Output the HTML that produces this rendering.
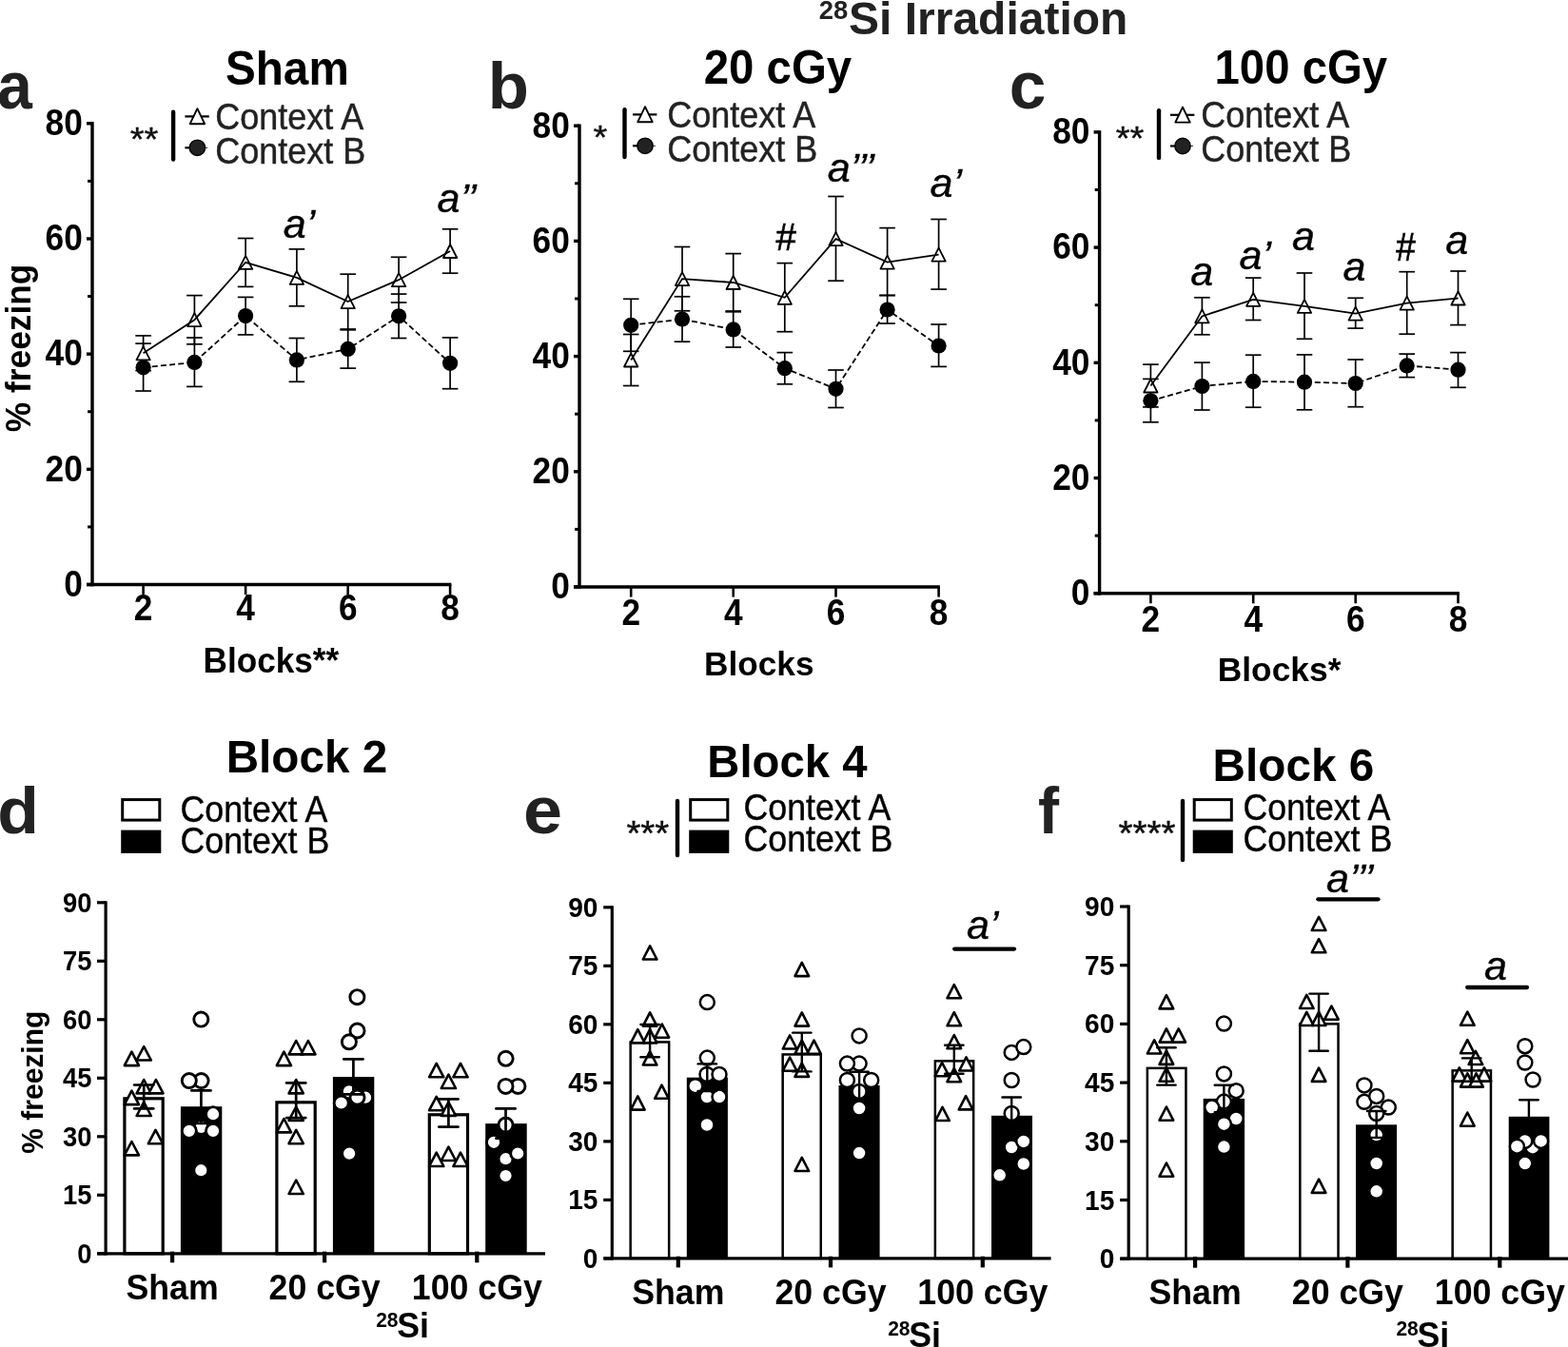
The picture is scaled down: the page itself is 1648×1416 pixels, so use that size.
<!DOCTYPE html>
<html lang="en">
<head>
<meta charset="utf-8">
<title>28Si Irradiation - % freezing across blocks</title>
<style>
html, body { margin: 0; padding: 0; background: #fff; }
body { width: 1648px; height: 1416px; overflow: hidden; }
svg { display: block; font-family: 'Liberation Sans', Arial, Helvetica, sans-serif; }
</style>
</head>
<body>
<svg width="1648" height="1416" viewBox="0 0 1648 1416">
<rect x="0" y="0" width="1648" height="1416" fill="#fff"/>
<line x1="97.00" y1="128.10" x2="97.00" y2="616.20" stroke="#000" stroke-width="3.4" stroke-linecap="butt"/>
<line x1="91.00" y1="614.50" x2="474.40" y2="614.50" stroke="#000" stroke-width="3.4" stroke-linecap="butt"/>
<line x1="91.00" y1="614.50" x2="97.00" y2="614.50" stroke="#000" stroke-width="3.4" stroke-linecap="butt"/>
<text transform="translate(86.80 626.80) scale(1.0 1.075)" font-size="35.3" font-weight="bold" font-style="normal" text-anchor="end" fill="#000">0</text>
<line x1="92.10" y1="553.91" x2="97.00" y2="553.91" stroke="#000" stroke-width="3.0" stroke-linecap="butt"/>
<line x1="91.00" y1="493.32" x2="97.00" y2="493.32" stroke="#000" stroke-width="3.4" stroke-linecap="butt"/>
<text transform="translate(86.80 505.62) scale(1.0 1.075)" font-size="35.3" font-weight="bold" font-style="normal" text-anchor="end" fill="#000">20</text>
<line x1="92.10" y1="432.74" x2="97.00" y2="432.74" stroke="#000" stroke-width="3.0" stroke-linecap="butt"/>
<line x1="91.00" y1="372.15" x2="97.00" y2="372.15" stroke="#000" stroke-width="3.4" stroke-linecap="butt"/>
<text transform="translate(86.80 384.45) scale(1.0 1.075)" font-size="35.3" font-weight="bold" font-style="normal" text-anchor="end" fill="#000">40</text>
<line x1="92.10" y1="311.56" x2="97.00" y2="311.56" stroke="#000" stroke-width="3.0" stroke-linecap="butt"/>
<line x1="91.00" y1="250.98" x2="97.00" y2="250.98" stroke="#000" stroke-width="3.4" stroke-linecap="butt"/>
<text transform="translate(86.80 263.28) scale(1.0 1.075)" font-size="35.3" font-weight="bold" font-style="normal" text-anchor="end" fill="#000">60</text>
<line x1="92.10" y1="190.39" x2="97.00" y2="190.39" stroke="#000" stroke-width="3.0" stroke-linecap="butt"/>
<line x1="91.00" y1="129.80" x2="97.00" y2="129.80" stroke="#000" stroke-width="3.4" stroke-linecap="butt"/>
<text transform="translate(86.80 142.10) scale(1.0 1.075)" font-size="35.3" font-weight="bold" font-style="normal" text-anchor="end" fill="#000">80</text>
<line x1="150.60" y1="614.50" x2="150.60" y2="625.10" stroke="#000" stroke-width="2.6" stroke-linecap="butt"/>
<text transform="translate(150.60 651.80) scale(1.0 1.075)" font-size="35.3" font-weight="bold" font-style="normal" text-anchor="middle" fill="#000">2</text>
<line x1="258.10" y1="614.50" x2="258.10" y2="625.10" stroke="#000" stroke-width="2.6" stroke-linecap="butt"/>
<text transform="translate(258.10 651.80) scale(1.0 1.075)" font-size="35.3" font-weight="bold" font-style="normal" text-anchor="middle" fill="#000">4</text>
<line x1="365.70" y1="614.50" x2="365.70" y2="625.10" stroke="#000" stroke-width="2.6" stroke-linecap="butt"/>
<text transform="translate(365.70 651.80) scale(1.0 1.075)" font-size="35.3" font-weight="bold" font-style="normal" text-anchor="middle" fill="#000">6</text>
<line x1="473.10" y1="614.50" x2="473.10" y2="625.10" stroke="#000" stroke-width="2.6" stroke-linecap="butt"/>
<text transform="translate(473.10 651.80) scale(1.0 1.075)" font-size="35.3" font-weight="bold" font-style="normal" text-anchor="middle" fill="#000">8</text>
<line x1="150.60" y1="361.10" x2="150.60" y2="411.00" stroke="#000" stroke-width="1.7" stroke-linecap="butt"/>
<line x1="142.30" y1="361.10" x2="158.90" y2="361.10" stroke="#000" stroke-width="1.7" stroke-linecap="butt"/>
<line x1="142.30" y1="411.00" x2="158.90" y2="411.00" stroke="#000" stroke-width="1.7" stroke-linecap="butt"/>
<line x1="204.40" y1="355.00" x2="204.40" y2="406.40" stroke="#000" stroke-width="1.7" stroke-linecap="butt"/>
<line x1="196.10" y1="355.00" x2="212.70" y2="355.00" stroke="#000" stroke-width="1.7" stroke-linecap="butt"/>
<line x1="196.10" y1="406.40" x2="212.70" y2="406.40" stroke="#000" stroke-width="1.7" stroke-linecap="butt"/>
<line x1="258.10" y1="312.40" x2="258.10" y2="351.90" stroke="#000" stroke-width="1.7" stroke-linecap="butt"/>
<line x1="249.80" y1="312.40" x2="266.40" y2="312.40" stroke="#000" stroke-width="1.7" stroke-linecap="butt"/>
<line x1="249.80" y1="351.90" x2="266.40" y2="351.90" stroke="#000" stroke-width="1.7" stroke-linecap="butt"/>
<line x1="311.90" y1="355.50" x2="311.90" y2="401.30" stroke="#000" stroke-width="1.7" stroke-linecap="butt"/>
<line x1="303.60" y1="355.50" x2="320.20" y2="355.50" stroke="#000" stroke-width="1.7" stroke-linecap="butt"/>
<line x1="303.60" y1="401.30" x2="320.20" y2="401.30" stroke="#000" stroke-width="1.7" stroke-linecap="butt"/>
<line x1="365.70" y1="346.80" x2="365.70" y2="387.10" stroke="#000" stroke-width="1.7" stroke-linecap="butt"/>
<line x1="357.40" y1="346.80" x2="374.00" y2="346.80" stroke="#000" stroke-width="1.7" stroke-linecap="butt"/>
<line x1="357.40" y1="387.10" x2="374.00" y2="387.10" stroke="#000" stroke-width="1.7" stroke-linecap="butt"/>
<line x1="419.10" y1="309.10" x2="419.10" y2="355.50" stroke="#000" stroke-width="1.7" stroke-linecap="butt"/>
<line x1="410.80" y1="309.10" x2="427.40" y2="309.10" stroke="#000" stroke-width="1.7" stroke-linecap="butt"/>
<line x1="410.80" y1="355.50" x2="427.40" y2="355.50" stroke="#000" stroke-width="1.7" stroke-linecap="butt"/>
<line x1="473.10" y1="354.90" x2="473.10" y2="408.70" stroke="#000" stroke-width="1.7" stroke-linecap="butt"/>
<line x1="464.80" y1="354.90" x2="481.40" y2="354.90" stroke="#000" stroke-width="1.7" stroke-linecap="butt"/>
<line x1="464.80" y1="408.70" x2="481.40" y2="408.70" stroke="#000" stroke-width="1.7" stroke-linecap="butt"/>
<line x1="150.60" y1="352.90" x2="150.60" y2="389.60" stroke="#000" stroke-width="1.7" stroke-linecap="butt"/>
<line x1="142.30" y1="352.90" x2="158.90" y2="352.90" stroke="#000" stroke-width="1.7" stroke-linecap="butt"/>
<line x1="142.30" y1="389.60" x2="158.90" y2="389.60" stroke="#000" stroke-width="1.7" stroke-linecap="butt"/>
<line x1="204.40" y1="310.60" x2="204.40" y2="361.80" stroke="#000" stroke-width="1.7" stroke-linecap="butt"/>
<line x1="196.10" y1="310.60" x2="212.70" y2="310.60" stroke="#000" stroke-width="1.7" stroke-linecap="butt"/>
<line x1="196.10" y1="361.80" x2="212.70" y2="361.80" stroke="#000" stroke-width="1.7" stroke-linecap="butt"/>
<line x1="258.10" y1="250.50" x2="258.10" y2="301.40" stroke="#000" stroke-width="1.7" stroke-linecap="butt"/>
<line x1="249.80" y1="250.50" x2="266.40" y2="250.50" stroke="#000" stroke-width="1.7" stroke-linecap="butt"/>
<line x1="249.80" y1="301.40" x2="266.40" y2="301.40" stroke="#000" stroke-width="1.7" stroke-linecap="butt"/>
<line x1="311.90" y1="261.90" x2="311.90" y2="321.80" stroke="#000" stroke-width="1.7" stroke-linecap="butt"/>
<line x1="303.60" y1="261.90" x2="320.20" y2="261.90" stroke="#000" stroke-width="1.7" stroke-linecap="butt"/>
<line x1="303.60" y1="321.80" x2="320.20" y2="321.80" stroke="#000" stroke-width="1.7" stroke-linecap="butt"/>
<line x1="365.70" y1="288.20" x2="365.70" y2="346.00" stroke="#000" stroke-width="1.7" stroke-linecap="butt"/>
<line x1="357.40" y1="288.20" x2="374.00" y2="288.20" stroke="#000" stroke-width="1.7" stroke-linecap="butt"/>
<line x1="357.40" y1="346.00" x2="374.00" y2="346.00" stroke="#000" stroke-width="1.7" stroke-linecap="butt"/>
<line x1="419.10" y1="270.30" x2="419.10" y2="318.00" stroke="#000" stroke-width="1.7" stroke-linecap="butt"/>
<line x1="410.80" y1="270.30" x2="427.40" y2="270.30" stroke="#000" stroke-width="1.7" stroke-linecap="butt"/>
<line x1="410.80" y1="318.00" x2="427.40" y2="318.00" stroke="#000" stroke-width="1.7" stroke-linecap="butt"/>
<line x1="473.10" y1="240.80" x2="473.10" y2="287.20" stroke="#000" stroke-width="1.7" stroke-linecap="butt"/>
<line x1="464.80" y1="240.80" x2="481.40" y2="240.80" stroke="#000" stroke-width="1.7" stroke-linecap="butt"/>
<line x1="464.80" y1="287.20" x2="481.40" y2="287.20" stroke="#000" stroke-width="1.7" stroke-linecap="butt"/>
<polyline points="150.60,386.30 204.40,380.90 258.10,332.10 311.90,378.40 365.70,366.90 419.10,332.30 473.10,381.80" fill="none" stroke="#000" stroke-width="1.8" stroke-dasharray="6 3.2"/>
<path d="M150.60 364.30L157.75 378.30L143.45 378.30Z" fill="#fff" stroke="#000" stroke-width="1.8" stroke-linejoin="round"/>
<path d="M204.40 329.20L211.55 343.20L197.25 343.20Z" fill="#fff" stroke="#000" stroke-width="1.8" stroke-linejoin="round"/>
<path d="M258.10 268.90L265.25 282.90L250.95 282.90Z" fill="#fff" stroke="#000" stroke-width="1.8" stroke-linejoin="round"/>
<path d="M311.90 284.90L319.05 298.90L304.75 298.90Z" fill="#fff" stroke="#000" stroke-width="1.8" stroke-linejoin="round"/>
<path d="M365.70 310.10L372.85 324.10L358.55 324.10Z" fill="#fff" stroke="#000" stroke-width="1.8" stroke-linejoin="round"/>
<path d="M419.10 287.20L426.25 301.20L411.95 301.20Z" fill="#fff" stroke="#000" stroke-width="1.8" stroke-linejoin="round"/>
<path d="M473.10 257.00L480.25 271.00L465.95 271.00Z" fill="#fff" stroke="#000" stroke-width="1.8" stroke-linejoin="round"/>
<polyline points="150.60,371.30 204.40,336.20 258.10,275.90 311.90,291.90 365.70,317.10 419.10,294.20 473.10,264.00" fill="none" stroke="#000" stroke-width="1.8"/>
<circle cx="150.60" cy="386.30" r="8.1" fill="#000"/>
<circle cx="204.40" cy="380.90" r="8.1" fill="#000"/>
<circle cx="258.10" cy="332.10" r="8.1" fill="#000"/>
<circle cx="311.90" cy="378.40" r="8.1" fill="#000"/>
<circle cx="365.70" cy="366.90" r="8.1" fill="#000"/>
<circle cx="419.10" cy="332.30" r="8.1" fill="#000"/>
<circle cx="473.10" cy="381.80" r="8.1" fill="#000"/>
<line x1="609.00" y1="130.50" x2="609.00" y2="618.70" stroke="#000" stroke-width="3.4" stroke-linecap="butt"/>
<line x1="603.00" y1="617.00" x2="987.90" y2="617.00" stroke="#000" stroke-width="3.4" stroke-linecap="butt"/>
<line x1="603.00" y1="617.00" x2="609.00" y2="617.00" stroke="#000" stroke-width="3.4" stroke-linecap="butt"/>
<text transform="translate(598.80 629.30) scale(1.0 1.075)" font-size="35.3" font-weight="bold" font-style="normal" text-anchor="end" fill="#000">0</text>
<line x1="604.10" y1="556.40" x2="609.00" y2="556.40" stroke="#000" stroke-width="3.0" stroke-linecap="butt"/>
<line x1="603.00" y1="495.80" x2="609.00" y2="495.80" stroke="#000" stroke-width="3.4" stroke-linecap="butt"/>
<text transform="translate(598.80 508.10) scale(1.0 1.075)" font-size="35.3" font-weight="bold" font-style="normal" text-anchor="end" fill="#000">20</text>
<line x1="604.10" y1="435.20" x2="609.00" y2="435.20" stroke="#000" stroke-width="3.0" stroke-linecap="butt"/>
<line x1="603.00" y1="374.60" x2="609.00" y2="374.60" stroke="#000" stroke-width="3.4" stroke-linecap="butt"/>
<text transform="translate(598.80 386.90) scale(1.0 1.075)" font-size="35.3" font-weight="bold" font-style="normal" text-anchor="end" fill="#000">40</text>
<line x1="604.10" y1="314.00" x2="609.00" y2="314.00" stroke="#000" stroke-width="3.0" stroke-linecap="butt"/>
<line x1="603.00" y1="253.40" x2="609.00" y2="253.40" stroke="#000" stroke-width="3.4" stroke-linecap="butt"/>
<text transform="translate(598.80 265.70) scale(1.0 1.075)" font-size="35.3" font-weight="bold" font-style="normal" text-anchor="end" fill="#000">60</text>
<line x1="604.10" y1="192.80" x2="609.00" y2="192.80" stroke="#000" stroke-width="3.0" stroke-linecap="butt"/>
<line x1="603.00" y1="132.20" x2="609.00" y2="132.20" stroke="#000" stroke-width="3.4" stroke-linecap="butt"/>
<text transform="translate(598.80 144.50) scale(1.0 1.075)" font-size="35.3" font-weight="bold" font-style="normal" text-anchor="end" fill="#000">80</text>
<line x1="663.20" y1="617.00" x2="663.20" y2="627.60" stroke="#000" stroke-width="2.6" stroke-linecap="butt"/>
<text transform="translate(663.20 657.00) scale(1.0 1.075)" font-size="35.3" font-weight="bold" font-style="normal" text-anchor="middle" fill="#000">2</text>
<line x1="770.70" y1="617.00" x2="770.70" y2="627.60" stroke="#000" stroke-width="2.6" stroke-linecap="butt"/>
<text transform="translate(770.70 657.00) scale(1.0 1.075)" font-size="35.3" font-weight="bold" font-style="normal" text-anchor="middle" fill="#000">4</text>
<line x1="878.50" y1="617.00" x2="878.50" y2="627.60" stroke="#000" stroke-width="2.6" stroke-linecap="butt"/>
<text transform="translate(878.50 657.00) scale(1.0 1.075)" font-size="35.3" font-weight="bold" font-style="normal" text-anchor="middle" fill="#000">6</text>
<line x1="986.60" y1="617.00" x2="986.60" y2="627.60" stroke="#000" stroke-width="2.6" stroke-linecap="butt"/>
<text transform="translate(986.60 657.00) scale(1.0 1.075)" font-size="35.3" font-weight="bold" font-style="normal" text-anchor="middle" fill="#000">8</text>
<line x1="663.20" y1="314.30" x2="663.20" y2="369.30" stroke="#000" stroke-width="1.7" stroke-linecap="butt"/>
<line x1="654.90" y1="314.30" x2="671.50" y2="314.30" stroke="#000" stroke-width="1.7" stroke-linecap="butt"/>
<line x1="654.90" y1="369.30" x2="671.50" y2="369.30" stroke="#000" stroke-width="1.7" stroke-linecap="butt"/>
<line x1="717.00" y1="311.80" x2="717.00" y2="359.20" stroke="#000" stroke-width="1.7" stroke-linecap="butt"/>
<line x1="708.70" y1="311.80" x2="725.30" y2="311.80" stroke="#000" stroke-width="1.7" stroke-linecap="butt"/>
<line x1="708.70" y1="359.20" x2="725.30" y2="359.20" stroke="#000" stroke-width="1.7" stroke-linecap="butt"/>
<line x1="770.70" y1="327.80" x2="770.70" y2="365.00" stroke="#000" stroke-width="1.7" stroke-linecap="butt"/>
<line x1="762.40" y1="327.80" x2="779.00" y2="327.80" stroke="#000" stroke-width="1.7" stroke-linecap="butt"/>
<line x1="762.40" y1="365.00" x2="779.00" y2="365.00" stroke="#000" stroke-width="1.7" stroke-linecap="butt"/>
<line x1="824.80" y1="370.60" x2="824.80" y2="403.80" stroke="#000" stroke-width="1.7" stroke-linecap="butt"/>
<line x1="816.50" y1="370.60" x2="833.10" y2="370.60" stroke="#000" stroke-width="1.7" stroke-linecap="butt"/>
<line x1="816.50" y1="403.80" x2="833.10" y2="403.80" stroke="#000" stroke-width="1.7" stroke-linecap="butt"/>
<line x1="878.50" y1="389.00" x2="878.50" y2="428.50" stroke="#000" stroke-width="1.7" stroke-linecap="butt"/>
<line x1="870.20" y1="389.00" x2="886.80" y2="389.00" stroke="#000" stroke-width="1.7" stroke-linecap="butt"/>
<line x1="870.20" y1="428.50" x2="886.80" y2="428.50" stroke="#000" stroke-width="1.7" stroke-linecap="butt"/>
<line x1="932.60" y1="310.50" x2="932.60" y2="340.00" stroke="#000" stroke-width="1.7" stroke-linecap="butt"/>
<line x1="924.30" y1="310.50" x2="940.90" y2="310.50" stroke="#000" stroke-width="1.7" stroke-linecap="butt"/>
<line x1="924.30" y1="340.00" x2="940.90" y2="340.00" stroke="#000" stroke-width="1.7" stroke-linecap="butt"/>
<line x1="986.60" y1="341.00" x2="986.60" y2="385.40" stroke="#000" stroke-width="1.7" stroke-linecap="butt"/>
<line x1="978.30" y1="341.00" x2="994.90" y2="341.00" stroke="#000" stroke-width="1.7" stroke-linecap="butt"/>
<line x1="978.30" y1="385.40" x2="994.90" y2="385.40" stroke="#000" stroke-width="1.7" stroke-linecap="butt"/>
<line x1="663.20" y1="351.50" x2="663.20" y2="405.50" stroke="#000" stroke-width="1.7" stroke-linecap="butt"/>
<line x1="654.90" y1="351.50" x2="671.50" y2="351.50" stroke="#000" stroke-width="1.7" stroke-linecap="butt"/>
<line x1="654.90" y1="405.50" x2="671.50" y2="405.50" stroke="#000" stroke-width="1.7" stroke-linecap="butt"/>
<line x1="717.00" y1="259.50" x2="717.00" y2="326.80" stroke="#000" stroke-width="1.7" stroke-linecap="butt"/>
<line x1="708.70" y1="259.50" x2="725.30" y2="259.50" stroke="#000" stroke-width="1.7" stroke-linecap="butt"/>
<line x1="708.70" y1="326.80" x2="725.30" y2="326.80" stroke="#000" stroke-width="1.7" stroke-linecap="butt"/>
<line x1="770.70" y1="266.60" x2="770.70" y2="327.00" stroke="#000" stroke-width="1.7" stroke-linecap="butt"/>
<line x1="762.40" y1="266.60" x2="779.00" y2="266.60" stroke="#000" stroke-width="1.7" stroke-linecap="butt"/>
<line x1="762.40" y1="327.00" x2="779.00" y2="327.00" stroke="#000" stroke-width="1.7" stroke-linecap="butt"/>
<line x1="824.80" y1="276.60" x2="824.80" y2="348.70" stroke="#000" stroke-width="1.7" stroke-linecap="butt"/>
<line x1="816.50" y1="276.60" x2="833.10" y2="276.60" stroke="#000" stroke-width="1.7" stroke-linecap="butt"/>
<line x1="816.50" y1="348.70" x2="833.10" y2="348.70" stroke="#000" stroke-width="1.7" stroke-linecap="butt"/>
<line x1="878.50" y1="206.50" x2="878.50" y2="295.20" stroke="#000" stroke-width="1.7" stroke-linecap="butt"/>
<line x1="870.20" y1="206.50" x2="886.80" y2="206.50" stroke="#000" stroke-width="1.7" stroke-linecap="butt"/>
<line x1="870.20" y1="295.20" x2="886.80" y2="295.20" stroke="#000" stroke-width="1.7" stroke-linecap="butt"/>
<line x1="932.60" y1="239.60" x2="932.60" y2="310.50" stroke="#000" stroke-width="1.7" stroke-linecap="butt"/>
<line x1="924.30" y1="239.60" x2="940.90" y2="239.60" stroke="#000" stroke-width="1.7" stroke-linecap="butt"/>
<line x1="924.30" y1="310.50" x2="940.90" y2="310.50" stroke="#000" stroke-width="1.7" stroke-linecap="butt"/>
<line x1="986.60" y1="230.50" x2="986.60" y2="304.10" stroke="#000" stroke-width="1.7" stroke-linecap="butt"/>
<line x1="978.30" y1="230.50" x2="994.90" y2="230.50" stroke="#000" stroke-width="1.7" stroke-linecap="butt"/>
<line x1="978.30" y1="304.10" x2="994.90" y2="304.10" stroke="#000" stroke-width="1.7" stroke-linecap="butt"/>
<polyline points="663.20,341.80 717.00,335.50 770.70,346.40 824.80,387.20 878.50,408.80 932.60,325.50 986.60,363.50" fill="none" stroke="#000" stroke-width="1.8" stroke-dasharray="6 3.2"/>
<path d="M663.20 371.50L670.35 385.50L656.05 385.50Z" fill="#fff" stroke="#000" stroke-width="1.8" stroke-linejoin="round"/>
<path d="M717.00 286.10L724.15 300.10L709.85 300.10Z" fill="#fff" stroke="#000" stroke-width="1.8" stroke-linejoin="round"/>
<path d="M770.70 290.00L777.85 304.00L763.55 304.00Z" fill="#fff" stroke="#000" stroke-width="1.8" stroke-linejoin="round"/>
<path d="M824.80 305.80L831.95 319.80L817.65 319.80Z" fill="#fff" stroke="#000" stroke-width="1.8" stroke-linejoin="round"/>
<path d="M878.50 244.10L885.65 258.10L871.35 258.10Z" fill="#fff" stroke="#000" stroke-width="1.8" stroke-linejoin="round"/>
<path d="M932.60 268.60L939.75 282.60L925.45 282.60Z" fill="#fff" stroke="#000" stroke-width="1.8" stroke-linejoin="round"/>
<path d="M986.60 260.70L993.75 274.70L979.45 274.70Z" fill="#fff" stroke="#000" stroke-width="1.8" stroke-linejoin="round"/>
<polyline points="663.20,378.50 717.00,293.10 770.70,297.00 824.80,312.80 878.50,251.10 932.60,275.60 986.60,267.70" fill="none" stroke="#000" stroke-width="1.8"/>
<circle cx="663.20" cy="341.80" r="8.1" fill="#000"/>
<circle cx="717.00" cy="335.50" r="8.1" fill="#000"/>
<circle cx="770.70" cy="346.40" r="8.1" fill="#000"/>
<circle cx="824.80" cy="387.20" r="8.1" fill="#000"/>
<circle cx="878.50" cy="408.80" r="8.1" fill="#000"/>
<circle cx="932.60" cy="325.50" r="8.1" fill="#000"/>
<circle cx="986.60" cy="363.50" r="8.1" fill="#000"/>
<line x1="1155.60" y1="137.20" x2="1155.60" y2="625.40" stroke="#000" stroke-width="3.4" stroke-linecap="butt"/>
<line x1="1149.60" y1="623.70" x2="1533.80" y2="623.70" stroke="#000" stroke-width="3.4" stroke-linecap="butt"/>
<line x1="1149.60" y1="623.70" x2="1155.60" y2="623.70" stroke="#000" stroke-width="3.4" stroke-linecap="butt"/>
<text transform="translate(1145.40 636.00) scale(1.0 1.075)" font-size="35.3" font-weight="bold" font-style="normal" text-anchor="end" fill="#000">0</text>
<line x1="1150.70" y1="563.10" x2="1155.60" y2="563.10" stroke="#000" stroke-width="3.0" stroke-linecap="butt"/>
<line x1="1149.60" y1="502.50" x2="1155.60" y2="502.50" stroke="#000" stroke-width="3.4" stroke-linecap="butt"/>
<text transform="translate(1145.40 514.80) scale(1.0 1.075)" font-size="35.3" font-weight="bold" font-style="normal" text-anchor="end" fill="#000">20</text>
<line x1="1150.70" y1="441.90" x2="1155.60" y2="441.90" stroke="#000" stroke-width="3.0" stroke-linecap="butt"/>
<line x1="1149.60" y1="381.30" x2="1155.60" y2="381.30" stroke="#000" stroke-width="3.4" stroke-linecap="butt"/>
<text transform="translate(1145.40 393.60) scale(1.0 1.075)" font-size="35.3" font-weight="bold" font-style="normal" text-anchor="end" fill="#000">40</text>
<line x1="1150.70" y1="320.70" x2="1155.60" y2="320.70" stroke="#000" stroke-width="3.0" stroke-linecap="butt"/>
<line x1="1149.60" y1="260.10" x2="1155.60" y2="260.10" stroke="#000" stroke-width="3.4" stroke-linecap="butt"/>
<text transform="translate(1145.40 272.40) scale(1.0 1.075)" font-size="35.3" font-weight="bold" font-style="normal" text-anchor="end" fill="#000">60</text>
<line x1="1150.70" y1="199.50" x2="1155.60" y2="199.50" stroke="#000" stroke-width="3.0" stroke-linecap="butt"/>
<line x1="1149.60" y1="138.90" x2="1155.60" y2="138.90" stroke="#000" stroke-width="3.4" stroke-linecap="butt"/>
<text transform="translate(1145.40 151.20) scale(1.0 1.075)" font-size="35.3" font-weight="bold" font-style="normal" text-anchor="end" fill="#000">80</text>
<line x1="1209.40" y1="623.70" x2="1209.40" y2="634.30" stroke="#000" stroke-width="2.6" stroke-linecap="butt"/>
<text transform="translate(1209.40 663.50) scale(1.0 1.075)" font-size="35.3" font-weight="bold" font-style="normal" text-anchor="middle" fill="#000">2</text>
<line x1="1317.20" y1="623.70" x2="1317.20" y2="634.30" stroke="#000" stroke-width="2.6" stroke-linecap="butt"/>
<text transform="translate(1317.20 663.50) scale(1.0 1.075)" font-size="35.3" font-weight="bold" font-style="normal" text-anchor="middle" fill="#000">4</text>
<line x1="1424.70" y1="623.70" x2="1424.70" y2="634.30" stroke="#000" stroke-width="2.6" stroke-linecap="butt"/>
<text transform="translate(1424.70 663.50) scale(1.0 1.075)" font-size="35.3" font-weight="bold" font-style="normal" text-anchor="middle" fill="#000">6</text>
<line x1="1532.50" y1="623.70" x2="1532.50" y2="634.30" stroke="#000" stroke-width="2.6" stroke-linecap="butt"/>
<text transform="translate(1532.50 663.50) scale(1.0 1.075)" font-size="35.3" font-weight="bold" font-style="normal" text-anchor="middle" fill="#000">8</text>
<line x1="1209.40" y1="398.40" x2="1209.40" y2="443.80" stroke="#000" stroke-width="1.7" stroke-linecap="butt"/>
<line x1="1201.10" y1="398.40" x2="1217.70" y2="398.40" stroke="#000" stroke-width="1.7" stroke-linecap="butt"/>
<line x1="1201.10" y1="443.80" x2="1217.70" y2="443.80" stroke="#000" stroke-width="1.7" stroke-linecap="butt"/>
<line x1="1263.40" y1="381.10" x2="1263.40" y2="431.00" stroke="#000" stroke-width="1.7" stroke-linecap="butt"/>
<line x1="1255.10" y1="381.10" x2="1271.70" y2="381.10" stroke="#000" stroke-width="1.7" stroke-linecap="butt"/>
<line x1="1255.10" y1="431.00" x2="1271.70" y2="431.00" stroke="#000" stroke-width="1.7" stroke-linecap="butt"/>
<line x1="1317.20" y1="373.20" x2="1317.20" y2="428.20" stroke="#000" stroke-width="1.7" stroke-linecap="butt"/>
<line x1="1308.90" y1="373.20" x2="1325.50" y2="373.20" stroke="#000" stroke-width="1.7" stroke-linecap="butt"/>
<line x1="1308.90" y1="428.20" x2="1325.50" y2="428.20" stroke="#000" stroke-width="1.7" stroke-linecap="butt"/>
<line x1="1371.00" y1="372.90" x2="1371.00" y2="430.80" stroke="#000" stroke-width="1.7" stroke-linecap="butt"/>
<line x1="1362.70" y1="372.90" x2="1379.30" y2="372.90" stroke="#000" stroke-width="1.7" stroke-linecap="butt"/>
<line x1="1362.70" y1="430.80" x2="1379.30" y2="430.80" stroke="#000" stroke-width="1.7" stroke-linecap="butt"/>
<line x1="1424.70" y1="378.00" x2="1424.70" y2="427.70" stroke="#000" stroke-width="1.7" stroke-linecap="butt"/>
<line x1="1416.40" y1="378.00" x2="1433.00" y2="378.00" stroke="#000" stroke-width="1.7" stroke-linecap="butt"/>
<line x1="1416.40" y1="427.70" x2="1433.00" y2="427.70" stroke="#000" stroke-width="1.7" stroke-linecap="butt"/>
<line x1="1478.70" y1="372.10" x2="1478.70" y2="396.60" stroke="#000" stroke-width="1.7" stroke-linecap="butt"/>
<line x1="1470.40" y1="372.10" x2="1487.00" y2="372.10" stroke="#000" stroke-width="1.7" stroke-linecap="butt"/>
<line x1="1470.40" y1="396.60" x2="1487.00" y2="396.60" stroke="#000" stroke-width="1.7" stroke-linecap="butt"/>
<line x1="1532.50" y1="370.60" x2="1532.50" y2="407.30" stroke="#000" stroke-width="1.7" stroke-linecap="butt"/>
<line x1="1524.20" y1="370.60" x2="1540.80" y2="370.60" stroke="#000" stroke-width="1.7" stroke-linecap="butt"/>
<line x1="1524.20" y1="407.30" x2="1540.80" y2="407.30" stroke="#000" stroke-width="1.7" stroke-linecap="butt"/>
<line x1="1209.40" y1="383.10" x2="1209.40" y2="427.90" stroke="#000" stroke-width="1.7" stroke-linecap="butt"/>
<line x1="1201.10" y1="383.10" x2="1217.70" y2="383.10" stroke="#000" stroke-width="1.7" stroke-linecap="butt"/>
<line x1="1201.10" y1="427.90" x2="1217.70" y2="427.90" stroke="#000" stroke-width="1.7" stroke-linecap="butt"/>
<line x1="1263.40" y1="312.80" x2="1263.40" y2="351.80" stroke="#000" stroke-width="1.7" stroke-linecap="butt"/>
<line x1="1255.10" y1="312.80" x2="1271.70" y2="312.80" stroke="#000" stroke-width="1.7" stroke-linecap="butt"/>
<line x1="1255.10" y1="351.80" x2="1271.70" y2="351.80" stroke="#000" stroke-width="1.7" stroke-linecap="butt"/>
<line x1="1317.20" y1="292.10" x2="1317.20" y2="336.50" stroke="#000" stroke-width="1.7" stroke-linecap="butt"/>
<line x1="1308.90" y1="292.10" x2="1325.50" y2="292.10" stroke="#000" stroke-width="1.7" stroke-linecap="butt"/>
<line x1="1308.90" y1="336.50" x2="1325.50" y2="336.50" stroke="#000" stroke-width="1.7" stroke-linecap="butt"/>
<line x1="1371.00" y1="287.00" x2="1371.00" y2="356.30" stroke="#000" stroke-width="1.7" stroke-linecap="butt"/>
<line x1="1362.70" y1="287.00" x2="1379.30" y2="287.00" stroke="#000" stroke-width="1.7" stroke-linecap="butt"/>
<line x1="1362.70" y1="356.30" x2="1379.30" y2="356.30" stroke="#000" stroke-width="1.7" stroke-linecap="butt"/>
<line x1="1424.70" y1="313.30" x2="1424.70" y2="345.10" stroke="#000" stroke-width="1.7" stroke-linecap="butt"/>
<line x1="1416.40" y1="313.30" x2="1433.00" y2="313.30" stroke="#000" stroke-width="1.7" stroke-linecap="butt"/>
<line x1="1416.40" y1="345.10" x2="1433.00" y2="345.10" stroke="#000" stroke-width="1.7" stroke-linecap="butt"/>
<line x1="1478.70" y1="285.70" x2="1478.70" y2="351.20" stroke="#000" stroke-width="1.7" stroke-linecap="butt"/>
<line x1="1470.40" y1="285.70" x2="1487.00" y2="285.70" stroke="#000" stroke-width="1.7" stroke-linecap="butt"/>
<line x1="1470.40" y1="351.20" x2="1487.00" y2="351.20" stroke="#000" stroke-width="1.7" stroke-linecap="butt"/>
<line x1="1532.50" y1="285.00" x2="1532.50" y2="341.60" stroke="#000" stroke-width="1.7" stroke-linecap="butt"/>
<line x1="1524.20" y1="285.00" x2="1540.80" y2="285.00" stroke="#000" stroke-width="1.7" stroke-linecap="butt"/>
<line x1="1524.20" y1="341.60" x2="1540.80" y2="341.60" stroke="#000" stroke-width="1.7" stroke-linecap="butt"/>
<polyline points="1209.40,421.30 1263.40,406.00 1317.20,400.90 1371.00,401.70 1424.70,403.00 1478.70,384.40 1532.50,388.70" fill="none" stroke="#000" stroke-width="1.8" stroke-dasharray="6 3.2"/>
<path d="M1209.40 398.50L1216.55 412.50L1202.25 412.50Z" fill="#fff" stroke="#000" stroke-width="1.8" stroke-linejoin="round"/>
<path d="M1263.40 325.40L1270.55 339.40L1256.25 339.40Z" fill="#fff" stroke="#000" stroke-width="1.8" stroke-linejoin="round"/>
<path d="M1317.20 307.80L1324.35 321.80L1310.05 321.80Z" fill="#fff" stroke="#000" stroke-width="1.8" stroke-linejoin="round"/>
<path d="M1371.00 314.90L1378.15 328.90L1363.85 328.90Z" fill="#fff" stroke="#000" stroke-width="1.8" stroke-linejoin="round"/>
<path d="M1424.70 322.60L1431.85 336.60L1417.55 336.60Z" fill="#fff" stroke="#000" stroke-width="1.8" stroke-linejoin="round"/>
<path d="M1478.70 311.60L1485.85 325.60L1471.55 325.60Z" fill="#fff" stroke="#000" stroke-width="1.8" stroke-linejoin="round"/>
<path d="M1532.50 306.50L1539.65 320.50L1525.35 320.50Z" fill="#fff" stroke="#000" stroke-width="1.8" stroke-linejoin="round"/>
<polyline points="1209.40,405.50 1263.40,332.40 1317.20,314.80 1371.00,321.90 1424.70,329.60 1478.70,318.60 1532.50,313.50" fill="none" stroke="#000" stroke-width="1.8"/>
<circle cx="1209.40" cy="421.30" r="8.1" fill="#000"/>
<circle cx="1263.40" cy="406.00" r="8.1" fill="#000"/>
<circle cx="1317.20" cy="400.90" r="8.1" fill="#000"/>
<circle cx="1371.00" cy="401.70" r="8.1" fill="#000"/>
<circle cx="1424.70" cy="403.00" r="8.1" fill="#000"/>
<circle cx="1478.70" cy="384.40" r="8.1" fill="#000"/>
<circle cx="1532.50" cy="388.70" r="8.1" fill="#000"/>
<line x1="194.40" y1="122.40" x2="219.80" y2="122.40" stroke="#000" stroke-width="2.2" stroke-linecap="butt"/>
<path d="M207.40 114.20L215.10 130.20L199.70 130.20Z" fill="#fff" stroke="#000" stroke-width="1.9" stroke-linejoin="round"/>
<line x1="194.40" y1="155.30" x2="211.40" y2="155.30" stroke="#000" stroke-width="2.2" stroke-linecap="butt"/>
<line x1="207.40" y1="155.30" x2="218.40" y2="155.30" stroke="#000" stroke-width="0.8" stroke-linecap="butt"/>
<circle cx="207.40" cy="155.30" r="8.2" fill="#222" stroke="#000" stroke-width="1.4"/>
<text transform="translate(226.20 135.70) scale(1.0 1.067)" font-size="36" font-weight="normal" font-style="normal" text-anchor="start" fill="#222" stroke="#222" stroke-width="0.4">Context A</text>
<text transform="translate(226.20 171.80) scale(1.0 1.067)" font-size="36" font-weight="normal" font-style="normal" text-anchor="start" fill="#222" stroke="#222" stroke-width="0.4">Context B</text>
<line x1="182.10" y1="117.70" x2="182.10" y2="167.60" stroke="#000" stroke-width="4.4" stroke-linecap="round"/>
<text transform="translate(136.73 157.85) scale(1.0 0.907)" font-size="38.12" font-weight="normal" font-style="normal" text-anchor="start" fill="#111" stroke="#000" stroke-width="0.4">**</text>
<line x1="665.00" y1="120.40" x2="690.40" y2="120.40" stroke="#000" stroke-width="2.2" stroke-linecap="butt"/>
<path d="M678.00 112.20L685.70 128.20L670.30 128.20Z" fill="#fff" stroke="#000" stroke-width="1.9" stroke-linejoin="round"/>
<line x1="665.00" y1="153.30" x2="682.00" y2="153.30" stroke="#000" stroke-width="2.2" stroke-linecap="butt"/>
<line x1="678.00" y1="153.30" x2="689.00" y2="153.30" stroke="#000" stroke-width="0.8" stroke-linecap="butt"/>
<circle cx="678.00" cy="153.30" r="8.2" fill="#222" stroke="#000" stroke-width="1.4"/>
<text transform="translate(701.20 133.70) scale(1.0 1.067)" font-size="36" font-weight="normal" font-style="normal" text-anchor="start" fill="#222" stroke="#222" stroke-width="0.4">Context A</text>
<text transform="translate(701.20 169.80) scale(1.0 1.067)" font-size="36" font-weight="normal" font-style="normal" text-anchor="start" fill="#222" stroke="#222" stroke-width="0.4">Context B</text>
<line x1="656.50" y1="115.20" x2="656.50" y2="165.00" stroke="#000" stroke-width="4.4" stroke-linecap="round"/>
<text transform="translate(623.43 155.66) scale(1.0 0.902)" font-size="38.03" font-weight="normal" font-style="normal" text-anchor="start" fill="#111" stroke="#000" stroke-width="0.4">*</text>
<line x1="1230.00" y1="120.80" x2="1255.40" y2="120.80" stroke="#000" stroke-width="2.2" stroke-linecap="butt"/>
<path d="M1243.00 112.60L1250.70 128.60L1235.30 128.60Z" fill="#fff" stroke="#000" stroke-width="1.9" stroke-linejoin="round"/>
<line x1="1230.00" y1="153.50" x2="1247.00" y2="153.50" stroke="#000" stroke-width="2.2" stroke-linecap="butt"/>
<line x1="1243.00" y1="153.50" x2="1254.00" y2="153.50" stroke="#000" stroke-width="0.8" stroke-linecap="butt"/>
<circle cx="1243.00" cy="153.50" r="8.2" fill="#222" stroke="#000" stroke-width="1.4"/>
<text transform="translate(1262.20 134.10) scale(1.0 1.067)" font-size="36" font-weight="normal" font-style="normal" text-anchor="start" fill="#222" stroke="#222" stroke-width="0.4">Context A</text>
<text transform="translate(1262.20 170.00) scale(1.0 1.067)" font-size="36" font-weight="normal" font-style="normal" text-anchor="start" fill="#222" stroke="#222" stroke-width="0.4">Context B</text>
<line x1="1218.00" y1="116.20" x2="1218.00" y2="165.90" stroke="#000" stroke-width="4.4" stroke-linecap="round"/>
<text transform="translate(1172.73 156.85) scale(1.0 0.907)" font-size="38.12" font-weight="normal" font-style="normal" text-anchor="start" fill="#111" stroke="#000" stroke-width="0.4">**</text>
<rect x="130.90" y="1154.80" width="40.30" height="163.00" fill="#fff" stroke="#000" stroke-width="3.2"/>
<rect x="189.90" y="1163.20" width="43.40" height="154.60" fill="#000"/>
<rect x="290.90" y="1158.80" width="40.30" height="159.00" fill="#fff" stroke="#000" stroke-width="3.2"/>
<rect x="349.90" y="1132.00" width="43.40" height="185.80" fill="#000"/>
<rect x="451.30" y="1171.80" width="40.20" height="146.00" fill="#fff" stroke="#000" stroke-width="3.2"/>
<rect x="510.20" y="1181.10" width="43.50" height="136.70" fill="#000"/>
<path d="M138.40 1105.70L146.00 1120.10L130.80 1120.10Z" fill="#fff" stroke="#000" stroke-width="2.6" stroke-linejoin="round"/>
<path d="M151.20 1100.10L158.80 1114.50L143.60 1114.50Z" fill="#fff" stroke="#000" stroke-width="2.6" stroke-linejoin="round"/>
<path d="M151.20 1135.00L158.80 1149.40L143.60 1149.40Z" fill="#fff" stroke="#000" stroke-width="2.6" stroke-linejoin="round"/>
<path d="M163.90 1135.00L171.50 1149.40L156.30 1149.40Z" fill="#fff" stroke="#000" stroke-width="2.6" stroke-linejoin="round"/>
<path d="M138.40 1146.70L146.00 1161.10L130.80 1161.10Z" fill="#fff" stroke="#000" stroke-width="2.6" stroke-linejoin="round"/>
<path d="M151.20 1158.60L158.80 1173.00L143.60 1173.00Z" fill="#fff" stroke="#000" stroke-width="2.6" stroke-linejoin="round"/>
<path d="M163.50 1187.80L171.10 1202.20L155.90 1202.20Z" fill="#fff" stroke="#000" stroke-width="2.6" stroke-linejoin="round"/>
<path d="M138.40 1200.00L146.00 1214.40L130.80 1214.40Z" fill="#fff" stroke="#000" stroke-width="2.6" stroke-linejoin="round"/>
<circle cx="211.30" cy="1071.60" r="7.55" fill="#fff" stroke="#000" stroke-width="2.9"/>
<circle cx="211.55" cy="1136.10" r="7.55" fill="#fff" stroke="#000" stroke-width="2.9"/>
<circle cx="198.80" cy="1136.10" r="7.55" fill="#fff" stroke="#000" stroke-width="2.9"/>
<circle cx="224.00" cy="1171.20" r="7.55" fill="#fff" stroke="#000" stroke-width="2.9"/>
<circle cx="211.40" cy="1185.00" r="7.55" fill="#fff" stroke="#000" stroke-width="2.9"/>
<circle cx="198.80" cy="1188.90" r="7.55" fill="#fff" stroke="#000" stroke-width="2.9"/>
<circle cx="224.00" cy="1188.90" r="7.55" fill="#fff" stroke="#000" stroke-width="2.9"/>
<circle cx="211.30" cy="1230.20" r="7.55" fill="#fff" stroke="#000" stroke-width="2.9"/>
<path d="M298.40 1105.70L306.00 1120.10L290.80 1120.10Z" fill="#fff" stroke="#000" stroke-width="2.6" stroke-linejoin="round"/>
<path d="M311.20 1094.00L318.80 1108.40L303.60 1108.40Z" fill="#fff" stroke="#000" stroke-width="2.6" stroke-linejoin="round"/>
<path d="M323.90 1094.00L331.50 1108.40L316.30 1108.40Z" fill="#fff" stroke="#000" stroke-width="2.6" stroke-linejoin="round"/>
<path d="M311.20 1135.00L318.80 1149.40L303.60 1149.40Z" fill="#fff" stroke="#000" stroke-width="2.6" stroke-linejoin="round"/>
<path d="M311.20 1163.50L318.80 1177.90L303.60 1177.90Z" fill="#fff" stroke="#000" stroke-width="2.6" stroke-linejoin="round"/>
<path d="M298.40 1176.00L306.00 1190.40L290.80 1190.40Z" fill="#fff" stroke="#000" stroke-width="2.6" stroke-linejoin="round"/>
<path d="M311.20 1187.80L318.80 1202.20L303.60 1202.20Z" fill="#fff" stroke="#000" stroke-width="2.6" stroke-linejoin="round"/>
<path d="M311.20 1240.60L318.80 1255.00L303.60 1255.00Z" fill="#fff" stroke="#000" stroke-width="2.6" stroke-linejoin="round"/>
<circle cx="375.40" cy="1048.20" r="7.55" fill="#fff" stroke="#000" stroke-width="2.9"/>
<circle cx="375.50" cy="1083.50" r="7.55" fill="#fff" stroke="#000" stroke-width="2.9"/>
<circle cx="366.90" cy="1095.30" r="7.55" fill="#fff" stroke="#000" stroke-width="2.9"/>
<circle cx="366.90" cy="1147.40" r="7.55" fill="#fff" stroke="#000" stroke-width="2.9"/>
<circle cx="384.10" cy="1153.70" r="7.55" fill="#fff" stroke="#000" stroke-width="2.9"/>
<circle cx="375.50" cy="1153.70" r="7.55" fill="#fff" stroke="#000" stroke-width="2.9"/>
<circle cx="358.70" cy="1159.50" r="7.55" fill="#fff" stroke="#000" stroke-width="2.9"/>
<circle cx="367.10" cy="1212.60" r="7.55" fill="#fff" stroke="#000" stroke-width="2.9"/>
<path d="M458.70 1117.90L466.30 1132.30L451.10 1132.30Z" fill="#fff" stroke="#000" stroke-width="2.6" stroke-linejoin="round"/>
<path d="M484.00 1117.90L491.60 1132.30L476.40 1132.30Z" fill="#fff" stroke="#000" stroke-width="2.6" stroke-linejoin="round"/>
<path d="M471.40 1129.60L479.00 1144.00L463.80 1144.00Z" fill="#fff" stroke="#000" stroke-width="2.6" stroke-linejoin="round"/>
<path d="M458.70 1152.80L466.30 1167.20L451.10 1167.20Z" fill="#fff" stroke="#000" stroke-width="2.6" stroke-linejoin="round"/>
<path d="M471.40 1158.50L479.00 1172.90L463.80 1172.90Z" fill="#fff" stroke="#000" stroke-width="2.6" stroke-linejoin="round"/>
<path d="M471.40 1205.60L479.00 1220.00L463.80 1220.00Z" fill="#fff" stroke="#000" stroke-width="2.6" stroke-linejoin="round"/>
<path d="M458.70 1211.60L466.30 1226.00L451.10 1226.00Z" fill="#fff" stroke="#000" stroke-width="2.6" stroke-linejoin="round"/>
<path d="M484.00 1211.60L491.60 1226.00L476.40 1226.00Z" fill="#fff" stroke="#000" stroke-width="2.6" stroke-linejoin="round"/>
<circle cx="531.60" cy="1112.80" r="7.55" fill="#fff" stroke="#000" stroke-width="2.9"/>
<circle cx="544.40" cy="1141.90" r="7.55" fill="#fff" stroke="#000" stroke-width="2.9"/>
<circle cx="531.50" cy="1141.90" r="7.55" fill="#fff" stroke="#000" stroke-width="2.9"/>
<circle cx="531.50" cy="1182.60" r="7.55" fill="#fff" stroke="#000" stroke-width="2.9"/>
<circle cx="519.00" cy="1200.80" r="7.55" fill="#fff" stroke="#000" stroke-width="2.9"/>
<circle cx="531.50" cy="1218.20" r="7.55" fill="#fff" stroke="#000" stroke-width="2.9"/>
<circle cx="544.20" cy="1212.50" r="7.55" fill="#fff" stroke="#000" stroke-width="2.9"/>
<circle cx="531.50" cy="1236.00" r="7.55" fill="#fff" stroke="#000" stroke-width="2.9"/>
<line x1="151.20" y1="1140.50" x2="151.20" y2="1165.40" stroke="#000" stroke-width="2.7" stroke-linecap="butt"/>
<line x1="141.10" y1="1140.50" x2="161.30" y2="1140.50" stroke="#000" stroke-width="2.7" stroke-linecap="round"/>
<line x1="141.10" y1="1165.40" x2="161.30" y2="1165.40" stroke="#000" stroke-width="2.7" stroke-linecap="round"/>
<line x1="211.40" y1="1146.40" x2="211.40" y2="1181.00" stroke="#000" stroke-width="2.7" stroke-linecap="butt"/>
<line x1="201.30" y1="1146.40" x2="221.50" y2="1146.40" stroke="#000" stroke-width="2.7" stroke-linecap="round"/>
<line x1="201.30" y1="1181.00" x2="221.50" y2="1181.00" stroke="#000" stroke-width="2.7" stroke-linecap="round"/>
<line x1="311.20" y1="1138.40" x2="311.20" y2="1175.10" stroke="#000" stroke-width="2.7" stroke-linecap="butt"/>
<line x1="301.10" y1="1138.40" x2="321.30" y2="1138.40" stroke="#000" stroke-width="2.7" stroke-linecap="round"/>
<line x1="301.10" y1="1175.10" x2="321.30" y2="1175.10" stroke="#000" stroke-width="2.7" stroke-linecap="round"/>
<line x1="371.40" y1="1113.40" x2="371.40" y2="1150.40" stroke="#000" stroke-width="2.7" stroke-linecap="butt"/>
<line x1="361.30" y1="1113.40" x2="381.50" y2="1113.40" stroke="#000" stroke-width="2.7" stroke-linecap="round"/>
<line x1="361.30" y1="1150.40" x2="381.50" y2="1150.40" stroke="#000" stroke-width="2.7" stroke-linecap="round"/>
<line x1="471.40" y1="1155.40" x2="471.40" y2="1184.60" stroke="#000" stroke-width="2.7" stroke-linecap="butt"/>
<line x1="461.30" y1="1155.40" x2="481.50" y2="1155.40" stroke="#000" stroke-width="2.7" stroke-linecap="round"/>
<line x1="461.30" y1="1184.60" x2="481.50" y2="1184.60" stroke="#000" stroke-width="2.7" stroke-linecap="round"/>
<line x1="531.50" y1="1165.40" x2="531.50" y2="1196.70" stroke="#000" stroke-width="2.7" stroke-linecap="butt"/>
<line x1="521.40" y1="1165.40" x2="541.60" y2="1165.40" stroke="#000" stroke-width="2.7" stroke-linecap="round"/>
<line x1="521.40" y1="1196.70" x2="541.60" y2="1196.70" stroke="#000" stroke-width="2.7" stroke-linecap="round"/>
<line x1="111.10" y1="947.20" x2="111.10" y2="1319.40" stroke="#000" stroke-width="3.2" stroke-linecap="butt"/>
<line x1="102.30" y1="1317.80" x2="573.00" y2="1317.80" stroke="#000" stroke-width="3.2" stroke-linecap="butt"/>
<line x1="102.00" y1="1317.80" x2="111.10" y2="1317.80" stroke="#000" stroke-width="3.2" stroke-linecap="butt"/>
<text transform="translate(96.40 1327.70) scale(1.0 1.08)" font-size="27.4" font-weight="bold" font-style="normal" text-anchor="end" fill="#000">0</text>
<line x1="102.00" y1="1256.30" x2="111.10" y2="1256.30" stroke="#000" stroke-width="3.2" stroke-linecap="butt"/>
<text transform="translate(96.40 1266.20) scale(1.0 1.08)" font-size="27.4" font-weight="bold" font-style="normal" text-anchor="end" fill="#000">15</text>
<line x1="102.00" y1="1194.80" x2="111.10" y2="1194.80" stroke="#000" stroke-width="3.2" stroke-linecap="butt"/>
<text transform="translate(96.40 1204.70) scale(1.0 1.08)" font-size="27.4" font-weight="bold" font-style="normal" text-anchor="end" fill="#000">30</text>
<line x1="102.00" y1="1133.30" x2="111.10" y2="1133.30" stroke="#000" stroke-width="3.2" stroke-linecap="butt"/>
<text transform="translate(96.40 1143.20) scale(1.0 1.08)" font-size="27.4" font-weight="bold" font-style="normal" text-anchor="end" fill="#000">45</text>
<line x1="102.00" y1="1071.80" x2="111.10" y2="1071.80" stroke="#000" stroke-width="3.2" stroke-linecap="butt"/>
<text transform="translate(96.40 1081.70) scale(1.0 1.08)" font-size="27.4" font-weight="bold" font-style="normal" text-anchor="end" fill="#000">60</text>
<line x1="102.00" y1="1010.30" x2="111.10" y2="1010.30" stroke="#000" stroke-width="3.2" stroke-linecap="butt"/>
<text transform="translate(96.40 1020.20) scale(1.0 1.08)" font-size="27.4" font-weight="bold" font-style="normal" text-anchor="end" fill="#000">75</text>
<line x1="102.00" y1="948.80" x2="111.10" y2="948.80" stroke="#000" stroke-width="3.2" stroke-linecap="butt"/>
<text transform="translate(96.40 958.70) scale(1.0 1.08)" font-size="27.4" font-weight="bold" font-style="normal" text-anchor="end" fill="#000">90</text>
<line x1="181.10" y1="1315.60" x2="181.10" y2="1327.30" stroke="#000" stroke-width="4.2" stroke-linecap="butt"/>
<text transform="translate(181.10 1366.40) scale(1.0 1.04)" font-size="35.7" font-weight="bold" font-style="normal" text-anchor="middle" fill="#000">Sham</text>
<line x1="341.10" y1="1315.60" x2="341.10" y2="1327.30" stroke="#000" stroke-width="4.2" stroke-linecap="butt"/>
<text transform="translate(341.10 1366.40) scale(1.0 1.04)" font-size="35.7" font-weight="bold" font-style="normal" text-anchor="middle" fill="#000">20 cGy</text>
<line x1="501.30" y1="1315.60" x2="501.30" y2="1327.30" stroke="#000" stroke-width="4.2" stroke-linecap="butt"/>
<text transform="translate(501.30 1366.40) scale(1.0 1.04)" font-size="35.7" font-weight="bold" font-style="normal" text-anchor="middle" fill="#000">100 cGy</text>
<rect x="662.65" y="1095.45" width="40.50" height="227.45" fill="#fff" stroke="#000" stroke-width="2.5"/>
<rect x="721.80" y="1132.70" width="43.10" height="190.20" fill="#000"/>
<rect x="822.65" y="1108.45" width="40.10" height="214.45" fill="#fff" stroke="#000" stroke-width="2.5"/>
<rect x="881.50" y="1141.00" width="43.10" height="181.90" fill="#000"/>
<rect x="982.85" y="1115.35" width="40.30" height="207.55" fill="#fff" stroke="#000" stroke-width="2.5"/>
<rect x="1042.00" y="1172.80" width="43.00" height="150.10" fill="#000"/>
<path d="M683.10 994.30L690.40 1008.50L675.80 1008.50Z" fill="#fff" stroke="#000" stroke-width="2.6" stroke-linejoin="round"/>
<path d="M683.10 1064.40L690.40 1078.60L675.80 1078.60Z" fill="#fff" stroke="#000" stroke-width="2.6" stroke-linejoin="round"/>
<path d="M695.80 1076.50L703.10 1090.70L688.50 1090.70Z" fill="#fff" stroke="#000" stroke-width="2.6" stroke-linejoin="round"/>
<path d="M670.30 1082.20L677.60 1096.40L663.00 1096.40Z" fill="#fff" stroke="#000" stroke-width="2.6" stroke-linejoin="round"/>
<path d="M683.10 1082.20L690.40 1096.40L675.80 1096.40Z" fill="#fff" stroke="#000" stroke-width="2.6" stroke-linejoin="round"/>
<path d="M683.10 1105.30L690.40 1119.50L675.80 1119.50Z" fill="#fff" stroke="#000" stroke-width="2.6" stroke-linejoin="round"/>
<path d="M695.50 1140.60L702.80 1154.80L688.20 1154.80Z" fill="#fff" stroke="#000" stroke-width="2.6" stroke-linejoin="round"/>
<path d="M670.30 1152.40L677.60 1166.60L663.00 1166.60Z" fill="#fff" stroke="#000" stroke-width="2.6" stroke-linejoin="round"/>
<circle cx="743.30" cy="1053.60" r="7.5" fill="#fff" stroke="#000" stroke-width="2.5"/>
<circle cx="743.30" cy="1112.10" r="7.5" fill="#fff" stroke="#000" stroke-width="2.5"/>
<circle cx="743.00" cy="1129.50" r="7.5" fill="#fff" stroke="#000" stroke-width="2.5"/>
<circle cx="756.00" cy="1129.50" r="7.5" fill="#fff" stroke="#000" stroke-width="2.5"/>
<circle cx="730.80" cy="1141.70" r="7.5" fill="#fff" stroke="#000" stroke-width="2.5"/>
<circle cx="743.00" cy="1153.10" r="7.5" fill="#fff" stroke="#000" stroke-width="2.5"/>
<circle cx="756.00" cy="1153.10" r="7.5" fill="#fff" stroke="#000" stroke-width="2.5"/>
<circle cx="743.00" cy="1182.50" r="7.5" fill="#fff" stroke="#000" stroke-width="2.5"/>
<path d="M842.80 1011.90L850.10 1026.10L835.50 1026.10Z" fill="#fff" stroke="#000" stroke-width="2.6" stroke-linejoin="round"/>
<path d="M842.80 1064.40L850.10 1078.60L835.50 1078.60Z" fill="#fff" stroke="#000" stroke-width="2.6" stroke-linejoin="round"/>
<path d="M830.10 1088.30L837.40 1102.50L822.80 1102.50Z" fill="#fff" stroke="#000" stroke-width="2.6" stroke-linejoin="round"/>
<path d="M842.80 1093.60L850.10 1107.80L835.50 1107.80Z" fill="#fff" stroke="#000" stroke-width="2.6" stroke-linejoin="round"/>
<path d="M855.50 1093.60L862.80 1107.80L848.20 1107.80Z" fill="#fff" stroke="#000" stroke-width="2.6" stroke-linejoin="round"/>
<path d="M830.10 1111.50L837.40 1125.70L822.80 1125.70Z" fill="#fff" stroke="#000" stroke-width="2.6" stroke-linejoin="round"/>
<path d="M842.80 1117.70L850.10 1131.90L835.50 1131.90Z" fill="#fff" stroke="#000" stroke-width="2.6" stroke-linejoin="round"/>
<path d="M842.80 1216.80L850.10 1231.00L835.50 1231.00Z" fill="#fff" stroke="#000" stroke-width="2.6" stroke-linejoin="round"/>
<circle cx="903.10" cy="1088.90" r="7.5" fill="#fff" stroke="#000" stroke-width="2.5"/>
<circle cx="903.10" cy="1118.10" r="7.5" fill="#fff" stroke="#000" stroke-width="2.5"/>
<circle cx="890.40" cy="1118.10" r="7.5" fill="#fff" stroke="#000" stroke-width="2.5"/>
<circle cx="903.10" cy="1147.50" r="7.5" fill="#fff" stroke="#000" stroke-width="2.5"/>
<circle cx="890.40" cy="1135.50" r="7.5" fill="#fff" stroke="#000" stroke-width="2.5"/>
<circle cx="915.70" cy="1135.50" r="7.5" fill="#fff" stroke="#000" stroke-width="2.5"/>
<circle cx="903.10" cy="1165.00" r="7.5" fill="#fff" stroke="#000" stroke-width="2.5"/>
<circle cx="903.10" cy="1212.10" r="7.5" fill="#fff" stroke="#000" stroke-width="2.5"/>
<path d="M1002.80 1035.10L1010.10 1049.30L995.50 1049.30Z" fill="#fff" stroke="#000" stroke-width="2.6" stroke-linejoin="round"/>
<path d="M1002.80 1064.10L1010.10 1078.30L995.50 1078.30Z" fill="#fff" stroke="#000" stroke-width="2.6" stroke-linejoin="round"/>
<path d="M1002.80 1088.00L1010.10 1102.20L995.50 1102.20Z" fill="#fff" stroke="#000" stroke-width="2.6" stroke-linejoin="round"/>
<path d="M1015.50 1111.30L1022.80 1125.50L1008.20 1125.50Z" fill="#fff" stroke="#000" stroke-width="2.6" stroke-linejoin="round"/>
<path d="M990.10 1117.00L997.40 1131.20L982.80 1131.20Z" fill="#fff" stroke="#000" stroke-width="2.6" stroke-linejoin="round"/>
<path d="M1002.80 1123.00L1010.10 1137.20L995.50 1137.20Z" fill="#fff" stroke="#000" stroke-width="2.6" stroke-linejoin="round"/>
<path d="M1015.10 1152.20L1022.40 1166.40L1007.80 1166.40Z" fill="#fff" stroke="#000" stroke-width="2.6" stroke-linejoin="round"/>
<path d="M990.50 1163.80L997.80 1178.00L983.20 1178.00Z" fill="#fff" stroke="#000" stroke-width="2.6" stroke-linejoin="round"/>
<circle cx="1063.20" cy="1106.40" r="7.5" fill="#fff" stroke="#000" stroke-width="2.5"/>
<circle cx="1075.80" cy="1100.60" r="7.5" fill="#fff" stroke="#000" stroke-width="2.5"/>
<circle cx="1063.20" cy="1135.50" r="7.5" fill="#fff" stroke="#000" stroke-width="2.5"/>
<circle cx="1063.20" cy="1170.50" r="7.5" fill="#fff" stroke="#000" stroke-width="2.5"/>
<circle cx="1063.20" cy="1206.00" r="7.5" fill="#fff" stroke="#000" stroke-width="2.5"/>
<circle cx="1075.80" cy="1199.90" r="7.5" fill="#fff" stroke="#000" stroke-width="2.5"/>
<circle cx="1075.80" cy="1223.50" r="7.5" fill="#fff" stroke="#000" stroke-width="2.5"/>
<circle cx="1050.70" cy="1235.30" r="7.5" fill="#fff" stroke="#000" stroke-width="2.5"/>
<line x1="683.10" y1="1077.00" x2="683.10" y2="1111.30" stroke="#000" stroke-width="2.4" stroke-linecap="butt"/>
<line x1="673.40" y1="1077.00" x2="692.80" y2="1077.00" stroke="#000" stroke-width="2.4" stroke-linecap="round"/>
<line x1="673.40" y1="1111.30" x2="692.80" y2="1111.30" stroke="#000" stroke-width="2.4" stroke-linecap="round"/>
<line x1="743.30" y1="1118.40" x2="743.30" y2="1147.00" stroke="#000" stroke-width="2.4" stroke-linecap="butt"/>
<line x1="733.60" y1="1118.40" x2="753.00" y2="1118.40" stroke="#000" stroke-width="2.4" stroke-linecap="round"/>
<line x1="733.60" y1="1147.00" x2="753.00" y2="1147.00" stroke="#000" stroke-width="2.4" stroke-linecap="round"/>
<line x1="842.80" y1="1085.60" x2="842.80" y2="1126.40" stroke="#000" stroke-width="2.4" stroke-linecap="butt"/>
<line x1="833.10" y1="1085.60" x2="852.50" y2="1085.60" stroke="#000" stroke-width="2.4" stroke-linecap="round"/>
<line x1="833.10" y1="1126.40" x2="852.50" y2="1126.40" stroke="#000" stroke-width="2.4" stroke-linecap="round"/>
<line x1="903.10" y1="1126.70" x2="903.10" y2="1155.30" stroke="#000" stroke-width="2.4" stroke-linecap="butt"/>
<line x1="893.40" y1="1126.70" x2="912.80" y2="1126.70" stroke="#000" stroke-width="2.4" stroke-linecap="round"/>
<line x1="893.40" y1="1155.30" x2="912.80" y2="1155.30" stroke="#000" stroke-width="2.4" stroke-linecap="round"/>
<line x1="1002.80" y1="1098.70" x2="1002.80" y2="1128.70" stroke="#000" stroke-width="2.4" stroke-linecap="butt"/>
<line x1="993.10" y1="1098.70" x2="1012.50" y2="1098.70" stroke="#000" stroke-width="2.4" stroke-linecap="round"/>
<line x1="993.10" y1="1128.70" x2="1012.50" y2="1128.70" stroke="#000" stroke-width="2.4" stroke-linecap="round"/>
<line x1="1063.20" y1="1153.50" x2="1063.20" y2="1192.10" stroke="#000" stroke-width="2.4" stroke-linecap="butt"/>
<line x1="1053.50" y1="1153.50" x2="1072.90" y2="1153.50" stroke="#000" stroke-width="2.4" stroke-linecap="round"/>
<line x1="1053.50" y1="1192.10" x2="1072.90" y2="1192.10" stroke="#000" stroke-width="2.4" stroke-linecap="round"/>
<line x1="643.30" y1="952.20" x2="643.30" y2="1324.50" stroke="#000" stroke-width="3.2" stroke-linecap="butt"/>
<line x1="634.50" y1="1322.90" x2="1104.60" y2="1322.90" stroke="#000" stroke-width="3.2" stroke-linecap="butt"/>
<line x1="634.20" y1="1322.90" x2="643.30" y2="1322.90" stroke="#000" stroke-width="3.2" stroke-linecap="butt"/>
<text transform="translate(628.40 1332.90) scale(1.0 1.08)" font-size="28.1" font-weight="bold" font-style="normal" text-anchor="end" fill="#000">0</text>
<line x1="634.20" y1="1261.38" x2="643.30" y2="1261.38" stroke="#000" stroke-width="3.2" stroke-linecap="butt"/>
<text transform="translate(628.40 1271.38) scale(1.0 1.08)" font-size="28.1" font-weight="bold" font-style="normal" text-anchor="end" fill="#000">15</text>
<line x1="634.20" y1="1199.87" x2="643.30" y2="1199.87" stroke="#000" stroke-width="3.2" stroke-linecap="butt"/>
<text transform="translate(628.40 1209.87) scale(1.0 1.08)" font-size="28.1" font-weight="bold" font-style="normal" text-anchor="end" fill="#000">30</text>
<line x1="634.20" y1="1138.35" x2="643.30" y2="1138.35" stroke="#000" stroke-width="3.2" stroke-linecap="butt"/>
<text transform="translate(628.40 1148.35) scale(1.0 1.08)" font-size="28.1" font-weight="bold" font-style="normal" text-anchor="end" fill="#000">45</text>
<line x1="634.20" y1="1076.83" x2="643.30" y2="1076.83" stroke="#000" stroke-width="3.2" stroke-linecap="butt"/>
<text transform="translate(628.40 1086.83) scale(1.0 1.08)" font-size="28.1" font-weight="bold" font-style="normal" text-anchor="end" fill="#000">60</text>
<line x1="634.20" y1="1015.32" x2="643.30" y2="1015.32" stroke="#000" stroke-width="3.2" stroke-linecap="butt"/>
<text transform="translate(628.40 1025.32) scale(1.0 1.08)" font-size="28.1" font-weight="bold" font-style="normal" text-anchor="end" fill="#000">75</text>
<line x1="634.20" y1="953.80" x2="643.30" y2="953.80" stroke="#000" stroke-width="3.2" stroke-linecap="butt"/>
<text transform="translate(628.40 963.80) scale(1.0 1.08)" font-size="28.1" font-weight="bold" font-style="normal" text-anchor="end" fill="#000">90</text>
<line x1="712.80" y1="1320.70" x2="712.80" y2="1332.40" stroke="#000" stroke-width="4.2" stroke-linecap="butt"/>
<text transform="translate(712.80 1370.60) scale(1.0 1.04)" font-size="35.7" font-weight="bold" font-style="normal" text-anchor="middle" fill="#000">Sham</text>
<line x1="873.00" y1="1320.70" x2="873.00" y2="1332.40" stroke="#000" stroke-width="4.2" stroke-linecap="butt"/>
<text transform="translate(873.00 1370.60) scale(1.0 1.04)" font-size="35.7" font-weight="bold" font-style="normal" text-anchor="middle" fill="#000">20 cGy</text>
<line x1="1032.80" y1="1320.70" x2="1032.80" y2="1332.40" stroke="#000" stroke-width="4.2" stroke-linecap="butt"/>
<text transform="translate(1032.80 1370.60) scale(1.0 1.04)" font-size="35.7" font-weight="bold" font-style="normal" text-anchor="middle" fill="#000">100 cGy</text>
<rect x="1205.85" y="1122.85" width="40.60" height="200.35" fill="#fff" stroke="#000" stroke-width="2.5"/>
<rect x="1264.70" y="1154.90" width="43.40" height="168.30" fill="#000"/>
<rect x="1366.35" y="1076.35" width="40.20" height="246.85" fill="#fff" stroke="#000" stroke-width="2.5"/>
<rect x="1425.00" y="1182.30" width="43.10" height="140.90" fill="#000"/>
<rect x="1526.65" y="1125.35" width="40.30" height="197.85" fill="#fff" stroke="#000" stroke-width="2.5"/>
<rect x="1585.70" y="1173.80" width="42.70" height="149.40" fill="#000"/>
<path d="M1225.90 1046.20L1233.20 1060.40L1218.60 1060.40Z" fill="#fff" stroke="#000" stroke-width="2.6" stroke-linejoin="round"/>
<path d="M1225.90 1081.40L1233.20 1095.60L1218.60 1095.60Z" fill="#fff" stroke="#000" stroke-width="2.6" stroke-linejoin="round"/>
<path d="M1238.70 1081.40L1246.00 1095.60L1231.40 1095.60Z" fill="#fff" stroke="#000" stroke-width="2.6" stroke-linejoin="round"/>
<path d="M1213.20 1093.30L1220.50 1107.50L1205.90 1107.50Z" fill="#fff" stroke="#000" stroke-width="2.6" stroke-linejoin="round"/>
<path d="M1225.90 1104.70L1233.20 1118.90L1218.60 1118.90Z" fill="#fff" stroke="#000" stroke-width="2.6" stroke-linejoin="round"/>
<path d="M1225.90 1122.60L1233.20 1136.80L1218.60 1136.80Z" fill="#fff" stroke="#000" stroke-width="2.6" stroke-linejoin="round"/>
<path d="M1225.90 1163.50L1233.20 1177.70L1218.60 1177.70Z" fill="#fff" stroke="#000" stroke-width="2.6" stroke-linejoin="round"/>
<path d="M1225.90 1222.50L1233.20 1236.70L1218.60 1236.70Z" fill="#fff" stroke="#000" stroke-width="2.6" stroke-linejoin="round"/>
<circle cx="1286.40" cy="1076.10" r="7.5" fill="#fff" stroke="#000" stroke-width="2.5"/>
<circle cx="1286.40" cy="1128.90" r="7.5" fill="#fff" stroke="#000" stroke-width="2.5"/>
<circle cx="1299.20" cy="1146.70" r="7.5" fill="#fff" stroke="#000" stroke-width="2.5"/>
<circle cx="1286.40" cy="1158.10" r="7.5" fill="#fff" stroke="#000" stroke-width="2.5"/>
<circle cx="1273.70" cy="1164.10" r="7.5" fill="#fff" stroke="#000" stroke-width="2.5"/>
<circle cx="1299.20" cy="1176.00" r="7.5" fill="#fff" stroke="#000" stroke-width="2.5"/>
<circle cx="1286.40" cy="1181.70" r="7.5" fill="#fff" stroke="#000" stroke-width="2.5"/>
<circle cx="1286.40" cy="1205.60" r="7.5" fill="#fff" stroke="#000" stroke-width="2.5"/>
<path d="M1386.10 963.80L1393.40 978.00L1378.80 978.00Z" fill="#fff" stroke="#000" stroke-width="2.6" stroke-linejoin="round"/>
<path d="M1386.10 987.10L1393.40 1001.30L1378.80 1001.30Z" fill="#fff" stroke="#000" stroke-width="2.6" stroke-linejoin="round"/>
<path d="M1373.30 1045.80L1380.60 1060.00L1366.00 1060.00Z" fill="#fff" stroke="#000" stroke-width="2.6" stroke-linejoin="round"/>
<path d="M1399.40 1057.50L1406.70 1071.70L1392.10 1071.70Z" fill="#fff" stroke="#000" stroke-width="2.6" stroke-linejoin="round"/>
<path d="M1373.30 1063.80L1380.60 1078.00L1366.00 1078.00Z" fill="#fff" stroke="#000" stroke-width="2.6" stroke-linejoin="round"/>
<path d="M1386.10 1063.80L1393.40 1078.00L1378.80 1078.00Z" fill="#fff" stroke="#000" stroke-width="2.6" stroke-linejoin="round"/>
<path d="M1386.10 1122.70L1393.40 1136.90L1378.80 1136.90Z" fill="#fff" stroke="#000" stroke-width="2.6" stroke-linejoin="round"/>
<path d="M1386.10 1239.70L1393.40 1253.90L1378.80 1253.90Z" fill="#fff" stroke="#000" stroke-width="2.6" stroke-linejoin="round"/>
<circle cx="1433.90" cy="1140.90" r="7.5" fill="#fff" stroke="#000" stroke-width="2.5"/>
<circle cx="1433.90" cy="1158.30" r="7.5" fill="#fff" stroke="#000" stroke-width="2.5"/>
<circle cx="1446.70" cy="1152.40" r="7.5" fill="#fff" stroke="#000" stroke-width="2.5"/>
<circle cx="1459.30" cy="1164.10" r="7.5" fill="#fff" stroke="#000" stroke-width="2.5"/>
<circle cx="1446.70" cy="1170.50" r="7.5" fill="#fff" stroke="#000" stroke-width="2.5"/>
<circle cx="1446.70" cy="1193.10" r="7.5" fill="#fff" stroke="#000" stroke-width="2.5"/>
<circle cx="1446.70" cy="1223.00" r="7.5" fill="#fff" stroke="#000" stroke-width="2.5"/>
<circle cx="1446.70" cy="1252.30" r="7.5" fill="#fff" stroke="#000" stroke-width="2.5"/>
<path d="M1542.30 1063.60L1549.60 1077.80L1535.00 1077.80Z" fill="#fff" stroke="#000" stroke-width="2.6" stroke-linejoin="round"/>
<path d="M1542.30 1093.10L1549.60 1107.30L1535.00 1107.30Z" fill="#fff" stroke="#000" stroke-width="2.6" stroke-linejoin="round"/>
<path d="M1550.90 1104.80L1558.20 1119.00L1543.60 1119.00Z" fill="#fff" stroke="#000" stroke-width="2.6" stroke-linejoin="round"/>
<path d="M1533.80 1122.40L1541.10 1136.60L1526.50 1136.60Z" fill="#fff" stroke="#000" stroke-width="2.6" stroke-linejoin="round"/>
<path d="M1559.90 1122.40L1567.20 1136.60L1552.60 1136.60Z" fill="#fff" stroke="#000" stroke-width="2.6" stroke-linejoin="round"/>
<path d="M1542.30 1128.40L1549.60 1142.60L1535.00 1142.60Z" fill="#fff" stroke="#000" stroke-width="2.6" stroke-linejoin="round"/>
<path d="M1551.50 1128.40L1558.80 1142.60L1544.20 1142.60Z" fill="#fff" stroke="#000" stroke-width="2.6" stroke-linejoin="round"/>
<path d="M1542.30 1169.50L1549.60 1183.70L1535.00 1183.70Z" fill="#fff" stroke="#000" stroke-width="2.6" stroke-linejoin="round"/>
<circle cx="1602.80" cy="1099.70" r="7.5" fill="#fff" stroke="#000" stroke-width="2.5"/>
<circle cx="1602.80" cy="1117.00" r="7.5" fill="#fff" stroke="#000" stroke-width="2.5"/>
<circle cx="1611.10" cy="1135.00" r="7.5" fill="#fff" stroke="#000" stroke-width="2.5"/>
<circle cx="1610.90" cy="1206.20" r="7.5" fill="#fff" stroke="#000" stroke-width="2.5"/>
<circle cx="1602.80" cy="1199.40" r="7.5" fill="#fff" stroke="#000" stroke-width="2.5"/>
<circle cx="1619.60" cy="1199.40" r="7.5" fill="#fff" stroke="#000" stroke-width="2.5"/>
<circle cx="1594.40" cy="1205.20" r="7.5" fill="#fff" stroke="#000" stroke-width="2.5"/>
<circle cx="1602.80" cy="1223.10" r="7.5" fill="#fff" stroke="#000" stroke-width="2.5"/>
<line x1="1225.90" y1="1101.20" x2="1225.90" y2="1140.60" stroke="#000" stroke-width="2.4" stroke-linecap="butt"/>
<line x1="1216.20" y1="1101.20" x2="1235.60" y2="1101.20" stroke="#000" stroke-width="2.4" stroke-linecap="round"/>
<line x1="1216.20" y1="1140.60" x2="1235.60" y2="1140.60" stroke="#000" stroke-width="2.4" stroke-linecap="round"/>
<line x1="1286.40" y1="1140.70" x2="1286.40" y2="1169.10" stroke="#000" stroke-width="2.4" stroke-linecap="butt"/>
<line x1="1276.70" y1="1140.70" x2="1296.10" y2="1140.70" stroke="#000" stroke-width="2.4" stroke-linecap="round"/>
<line x1="1276.70" y1="1169.10" x2="1296.10" y2="1169.10" stroke="#000" stroke-width="2.4" stroke-linecap="round"/>
<line x1="1386.10" y1="1044.60" x2="1386.10" y2="1104.70" stroke="#000" stroke-width="2.4" stroke-linecap="butt"/>
<line x1="1376.40" y1="1044.60" x2="1395.80" y2="1044.60" stroke="#000" stroke-width="2.4" stroke-linecap="round"/>
<line x1="1376.40" y1="1104.70" x2="1395.80" y2="1104.70" stroke="#000" stroke-width="2.4" stroke-linecap="round"/>
<line x1="1446.70" y1="1168.00" x2="1446.70" y2="1195.90" stroke="#000" stroke-width="2.4" stroke-linecap="butt"/>
<line x1="1437.00" y1="1168.00" x2="1456.40" y2="1168.00" stroke="#000" stroke-width="2.4" stroke-linecap="round"/>
<line x1="1437.00" y1="1195.90" x2="1456.40" y2="1195.90" stroke="#000" stroke-width="2.4" stroke-linecap="round"/>
<line x1="1546.70" y1="1112.40" x2="1546.70" y2="1136.80" stroke="#000" stroke-width="2.4" stroke-linecap="butt"/>
<line x1="1537.00" y1="1112.40" x2="1556.40" y2="1112.40" stroke="#000" stroke-width="2.4" stroke-linecap="round"/>
<line x1="1537.00" y1="1136.80" x2="1556.40" y2="1136.80" stroke="#000" stroke-width="2.4" stroke-linecap="round"/>
<line x1="1606.90" y1="1156.20" x2="1606.90" y2="1191.40" stroke="#000" stroke-width="2.4" stroke-linecap="butt"/>
<line x1="1597.20" y1="1156.20" x2="1616.60" y2="1156.20" stroke="#000" stroke-width="2.4" stroke-linecap="round"/>
<line x1="1597.20" y1="1191.40" x2="1616.60" y2="1191.40" stroke="#000" stroke-width="2.4" stroke-linecap="round"/>
<line x1="1186.20" y1="951.40" x2="1186.20" y2="1324.80" stroke="#000" stroke-width="3.2" stroke-linecap="butt"/>
<line x1="1177.40" y1="1323.20" x2="1648.00" y2="1323.20" stroke="#000" stroke-width="3.2" stroke-linecap="butt"/>
<line x1="1177.10" y1="1323.20" x2="1186.20" y2="1323.20" stroke="#000" stroke-width="3.2" stroke-linecap="butt"/>
<text transform="translate(1171.30 1333.20) scale(1.0 1.08)" font-size="28.1" font-weight="bold" font-style="normal" text-anchor="end" fill="#000">0</text>
<line x1="1177.10" y1="1261.50" x2="1186.20" y2="1261.50" stroke="#000" stroke-width="3.2" stroke-linecap="butt"/>
<text transform="translate(1171.30 1271.50) scale(1.0 1.08)" font-size="28.1" font-weight="bold" font-style="normal" text-anchor="end" fill="#000">15</text>
<line x1="1177.10" y1="1199.80" x2="1186.20" y2="1199.80" stroke="#000" stroke-width="3.2" stroke-linecap="butt"/>
<text transform="translate(1171.30 1209.80) scale(1.0 1.08)" font-size="28.1" font-weight="bold" font-style="normal" text-anchor="end" fill="#000">30</text>
<line x1="1177.10" y1="1138.10" x2="1186.20" y2="1138.10" stroke="#000" stroke-width="3.2" stroke-linecap="butt"/>
<text transform="translate(1171.30 1148.10) scale(1.0 1.08)" font-size="28.1" font-weight="bold" font-style="normal" text-anchor="end" fill="#000">45</text>
<line x1="1177.10" y1="1076.40" x2="1186.20" y2="1076.40" stroke="#000" stroke-width="3.2" stroke-linecap="butt"/>
<text transform="translate(1171.30 1086.40) scale(1.0 1.08)" font-size="28.1" font-weight="bold" font-style="normal" text-anchor="end" fill="#000">60</text>
<line x1="1177.10" y1="1014.70" x2="1186.20" y2="1014.70" stroke="#000" stroke-width="3.2" stroke-linecap="butt"/>
<text transform="translate(1171.30 1024.70) scale(1.0 1.08)" font-size="28.1" font-weight="bold" font-style="normal" text-anchor="end" fill="#000">75</text>
<line x1="1177.10" y1="953.00" x2="1186.20" y2="953.00" stroke="#000" stroke-width="3.2" stroke-linecap="butt"/>
<text transform="translate(1171.30 963.00) scale(1.0 1.08)" font-size="28.1" font-weight="bold" font-style="normal" text-anchor="end" fill="#000">90</text>
<line x1="1256.10" y1="1321.00" x2="1256.10" y2="1332.70" stroke="#000" stroke-width="4.2" stroke-linecap="butt"/>
<text transform="translate(1256.10 1370.90) scale(1.0 1.04)" font-size="35.7" font-weight="bold" font-style="normal" text-anchor="middle" fill="#000">Sham</text>
<line x1="1416.40" y1="1321.00" x2="1416.40" y2="1332.70" stroke="#000" stroke-width="4.2" stroke-linecap="butt"/>
<text transform="translate(1416.40 1370.90) scale(1.0 1.04)" font-size="35.7" font-weight="bold" font-style="normal" text-anchor="middle" fill="#000">20 cGy</text>
<line x1="1576.30" y1="1321.00" x2="1576.30" y2="1332.70" stroke="#000" stroke-width="4.2" stroke-linecap="butt"/>
<text transform="translate(1576.30 1370.90) scale(1.0 1.04)" font-size="35.7" font-weight="bold" font-style="normal" text-anchor="middle" fill="#000">100 cGy</text>
<rect x="128.70" y="840.60" width="39.10" height="21.50" fill="#fff" stroke="#000" stroke-width="3"/>
<rect x="127.20" y="872.60" width="42.10" height="24.30" fill="#000"/>
<text transform="translate(189.50 863.80) scale(1.0 1.07)" font-size="35.7" font-weight="normal" font-style="normal" text-anchor="start" fill="#000" stroke="#000" stroke-width="0.4">Context A</text>
<text transform="translate(189.50 896.70) scale(1.0 1.07)" font-size="35.7" font-weight="normal" font-style="normal" text-anchor="start" fill="#000" stroke="#000" stroke-width="0.4">Context B</text>
<rect x="725.70" y="840.60" width="39.10" height="21.50" fill="#fff" stroke="#000" stroke-width="3"/>
<rect x="724.20" y="872.60" width="42.10" height="24.30" fill="#000"/>
<text transform="translate(781.50 862.00) scale(1.0 1.07)" font-size="35.7" font-weight="normal" font-style="normal" text-anchor="start" fill="#000" stroke="#000" stroke-width="0.4">Context A</text>
<text transform="translate(781.50 894.90) scale(1.0 1.07)" font-size="35.7" font-weight="normal" font-style="normal" text-anchor="start" fill="#000" stroke="#000" stroke-width="0.4">Context B</text>
<rect x="1255.20" y="840.60" width="39.10" height="21.50" fill="#fff" stroke="#000" stroke-width="3"/>
<rect x="1253.70" y="872.60" width="42.10" height="24.30" fill="#000"/>
<text transform="translate(1306.50 862.00) scale(1.0 1.07)" font-size="35.7" font-weight="normal" font-style="normal" text-anchor="start" fill="#000" stroke="#000" stroke-width="0.4">Context A</text>
<text transform="translate(1306.50 894.90) scale(1.0 1.07)" font-size="35.7" font-weight="normal" font-style="normal" text-anchor="start" fill="#000" stroke="#000" stroke-width="0.4">Context B</text>
<line x1="712.00" y1="842.00" x2="712.00" y2="899.00" stroke="#000" stroke-width="4.4" stroke-linecap="round"/>
<text transform="translate(658.42 889.33) scale(1.0 0.952)" font-size="38.41" font-weight="normal" font-style="normal" text-anchor="start" fill="#111" stroke="#000" stroke-width="0.4">***</text>
<line x1="1243.00" y1="842.00" x2="1243.00" y2="904.00" stroke="#000" stroke-width="4.4" stroke-linecap="round"/>
<text transform="translate(1175.42 889.33) scale(1.0 0.945)" font-size="38.69" font-weight="normal" font-style="normal" text-anchor="start" fill="#111" stroke="#000" stroke-width="0.4">****</text>
<line x1="1003.20" y1="997.60" x2="1066.00" y2="997.60" stroke="#000" stroke-width="4.3" stroke-linecap="round"/>
<line x1="1385.40" y1="945.30" x2="1448.50" y2="945.30" stroke="#000" stroke-width="4.3" stroke-linecap="round"/>
<line x1="1542.20" y1="1038.00" x2="1604.90" y2="1038.00" stroke="#000" stroke-width="4.3" stroke-linecap="round"/>
<text transform="translate(860.74 20.03) scale(1.0 0.99)" font-size="27.46" font-weight="bold" font-style="normal" text-anchor="start" fill="#222">28</text>
<text transform="translate(892.06 36.22) scale(1.0 0.995)" font-size="47.99" font-weight="bold" font-style="normal" text-anchor="start" fill="#222">Si Irradiation</text>
<text transform="translate(-2.78 113.90) scale(1.0 1.069)" font-size="65.85" font-weight="bold" font-style="normal" text-anchor="start" fill="#222">a</text>
<text transform="translate(512.80 113.91) scale(1.0 0.97)" font-size="70.69" font-weight="bold" font-style="normal" text-anchor="start" fill="#222">b</text>
<text transform="translate(1060.82 113.90) scale(1.0 1.007)" font-size="69.48" font-weight="bold" font-style="normal" text-anchor="start" fill="#222">c</text>
<text transform="translate(-2.86 876.22) scale(1.0 0.954)" font-size="71.49" font-weight="bold" font-style="normal" text-anchor="start" fill="#222">d</text>
<text transform="translate(549.95 876.21) scale(1.0 0.942)" font-size="73.75" font-weight="bold" font-style="normal" text-anchor="start" fill="#222">e</text>
<text transform="translate(1090.91 875.80) scale(1.0 1.039)" font-size="66.25" font-weight="bold" font-style="normal" text-anchor="start" fill="#222">f</text>
<text transform="translate(236.92 89.10) scale(1.0 1.038)" font-size="47.7" font-weight="bold" font-style="normal" text-anchor="start" fill="#000">Sham</text>
<text transform="translate(739.74 88.04) scale(1.0 1.041)" font-size="47.41" font-weight="bold" font-style="normal" text-anchor="start" fill="#000">20 cGy</text>
<text transform="translate(1276.52 88.04) scale(1.0 1.042)" font-size="47.33" font-weight="bold" font-style="normal" text-anchor="start" fill="#000">100 cGy</text>
<text transform="translate(237.70 812.12) scale(1.0 1.002)" font-size="47.65" font-weight="bold" font-style="normal" text-anchor="start" fill="#000">Block 2</text>
<text transform="translate(743.33 816.72) scale(1.0 1.01)" font-size="47.29" font-weight="bold" font-style="normal" text-anchor="start" fill="#000">Block 4</text>
<text transform="translate(1274.60 821.02) scale(1.0 1.004)" font-size="47.7" font-weight="bold" font-style="normal" text-anchor="start" fill="#000">Block 6</text>
<text transform="translate(213.51 706.64) scale(1.0 1.036)" font-size="35.19" font-weight="bold" font-style="normal" text-anchor="start" fill="#000">Blocks**</text>
<text transform="translate(740.01 710.25) scale(1.0 0.988)" font-size="35.24" font-weight="bold" font-style="normal" text-anchor="start" fill="#000">Blocks</text>
<text transform="translate(1279.70 716.14) scale(1.0 1.015)" font-size="35.39" font-weight="bold" font-style="normal" text-anchor="start" fill="#000">Blocks*</text>
<text transform="translate(31.9,365.9) rotate(-90) scale(1 1.065)" font-size="35.3" font-weight="bold" text-anchor="middle">% freezing</text>
<text transform="translate(44.8,1137.7) rotate(-90) scale(1 1.065)" font-size="30.0" font-weight="bold" text-anchor="middle">% freezing</text>
<text transform="translate(395.20 1394.50) scale(1.0 1.04)" font-size="21" font-weight="bold" font-style="normal" text-anchor="start" fill="#000">28</text>
<text transform="translate(417.20 1406.30) scale(1.0 1.04)" font-size="35.7" font-weight="bold" font-style="normal" text-anchor="start" fill="#000">Si</text>
<text transform="translate(933.20 1404.10) scale(1.0 1.04)" font-size="21" font-weight="bold" font-style="normal" text-anchor="start" fill="#000">28</text>
<text transform="translate(955.20 1415.90) scale(1.0 1.04)" font-size="35.7" font-weight="bold" font-style="normal" text-anchor="start" fill="#000">Si</text>
<text transform="translate(1467.40 1404.10) scale(1.0 1.04)" font-size="21" font-weight="bold" font-style="normal" text-anchor="start" fill="#000">28</text>
<text transform="translate(1489.40 1415.90) scale(1.0 1.04)" font-size="35.7" font-weight="bold" font-style="normal" text-anchor="start" fill="#000">Si</text>
<text x="297.80" y="249.50" font-size="43" font-weight="normal" font-style="italic" text-anchor="start" fill="#000" stroke="#000" stroke-width="0.4">a’</text>
<text x="459.50" y="222.80" font-size="43" font-weight="normal" font-style="italic" text-anchor="start" fill="#000" stroke="#000" stroke-width="0.4">a’’</text>
<text x="869.70" y="190.50" font-size="43" font-weight="normal" font-style="italic" text-anchor="start" fill="#000" stroke="#000" stroke-width="0.4">a’’’</text>
<text x="977.50" y="206.50" font-size="43" font-weight="normal" font-style="italic" text-anchor="start" fill="#000" stroke="#000" stroke-width="0.4">a’</text>
<text x="1251.30" y="299.70" font-size="43" font-weight="normal" font-style="italic" text-anchor="start" fill="#000" stroke="#000" stroke-width="0.4">a</text>
<text x="1302.60" y="282.70" font-size="43" font-weight="normal" font-style="italic" text-anchor="start" fill="#000" stroke="#000" stroke-width="0.4">a’</text>
<text x="1358.10" y="262.60" font-size="43" font-weight="normal" font-style="italic" text-anchor="start" fill="#000" stroke="#000" stroke-width="0.4">a</text>
<text x="1411.50" y="294.70" font-size="43" font-weight="normal" font-style="italic" text-anchor="start" fill="#000" stroke="#000" stroke-width="0.4">a</text>
<text x="1519.20" y="267.10" font-size="43" font-weight="normal" font-style="italic" text-anchor="start" fill="#000" stroke="#000" stroke-width="0.4">a</text>
<text transform="translate(815.51 262.90) scale(1.0 1.061)" font-size="38.53" font-weight="normal" font-style="normal" text-anchor="start" fill="#000" stroke="#000" stroke-width="0.6">#</text>
<text transform="translate(1467.31 273.50) scale(1.0 1.138)" font-size="37.06" font-weight="normal" font-style="normal" text-anchor="start" fill="#000" stroke="#000" stroke-width="0.6">#</text>
<text x="1016.10" y="986.90" font-size="43" font-weight="normal" font-style="italic" text-anchor="start" fill="#000" stroke="#000" stroke-width="0.4">a’</text>
<text x="1394.10" y="938.00" font-size="43" font-weight="normal" font-style="italic" text-anchor="start" fill="#000" stroke="#000" stroke-width="0.4">a’’’</text>
<text x="1560.10" y="1029.60" font-size="43" font-weight="normal" font-style="italic" text-anchor="start" fill="#000" stroke="#000" stroke-width="0.4">a</text>
</svg>
</body>
</html>
